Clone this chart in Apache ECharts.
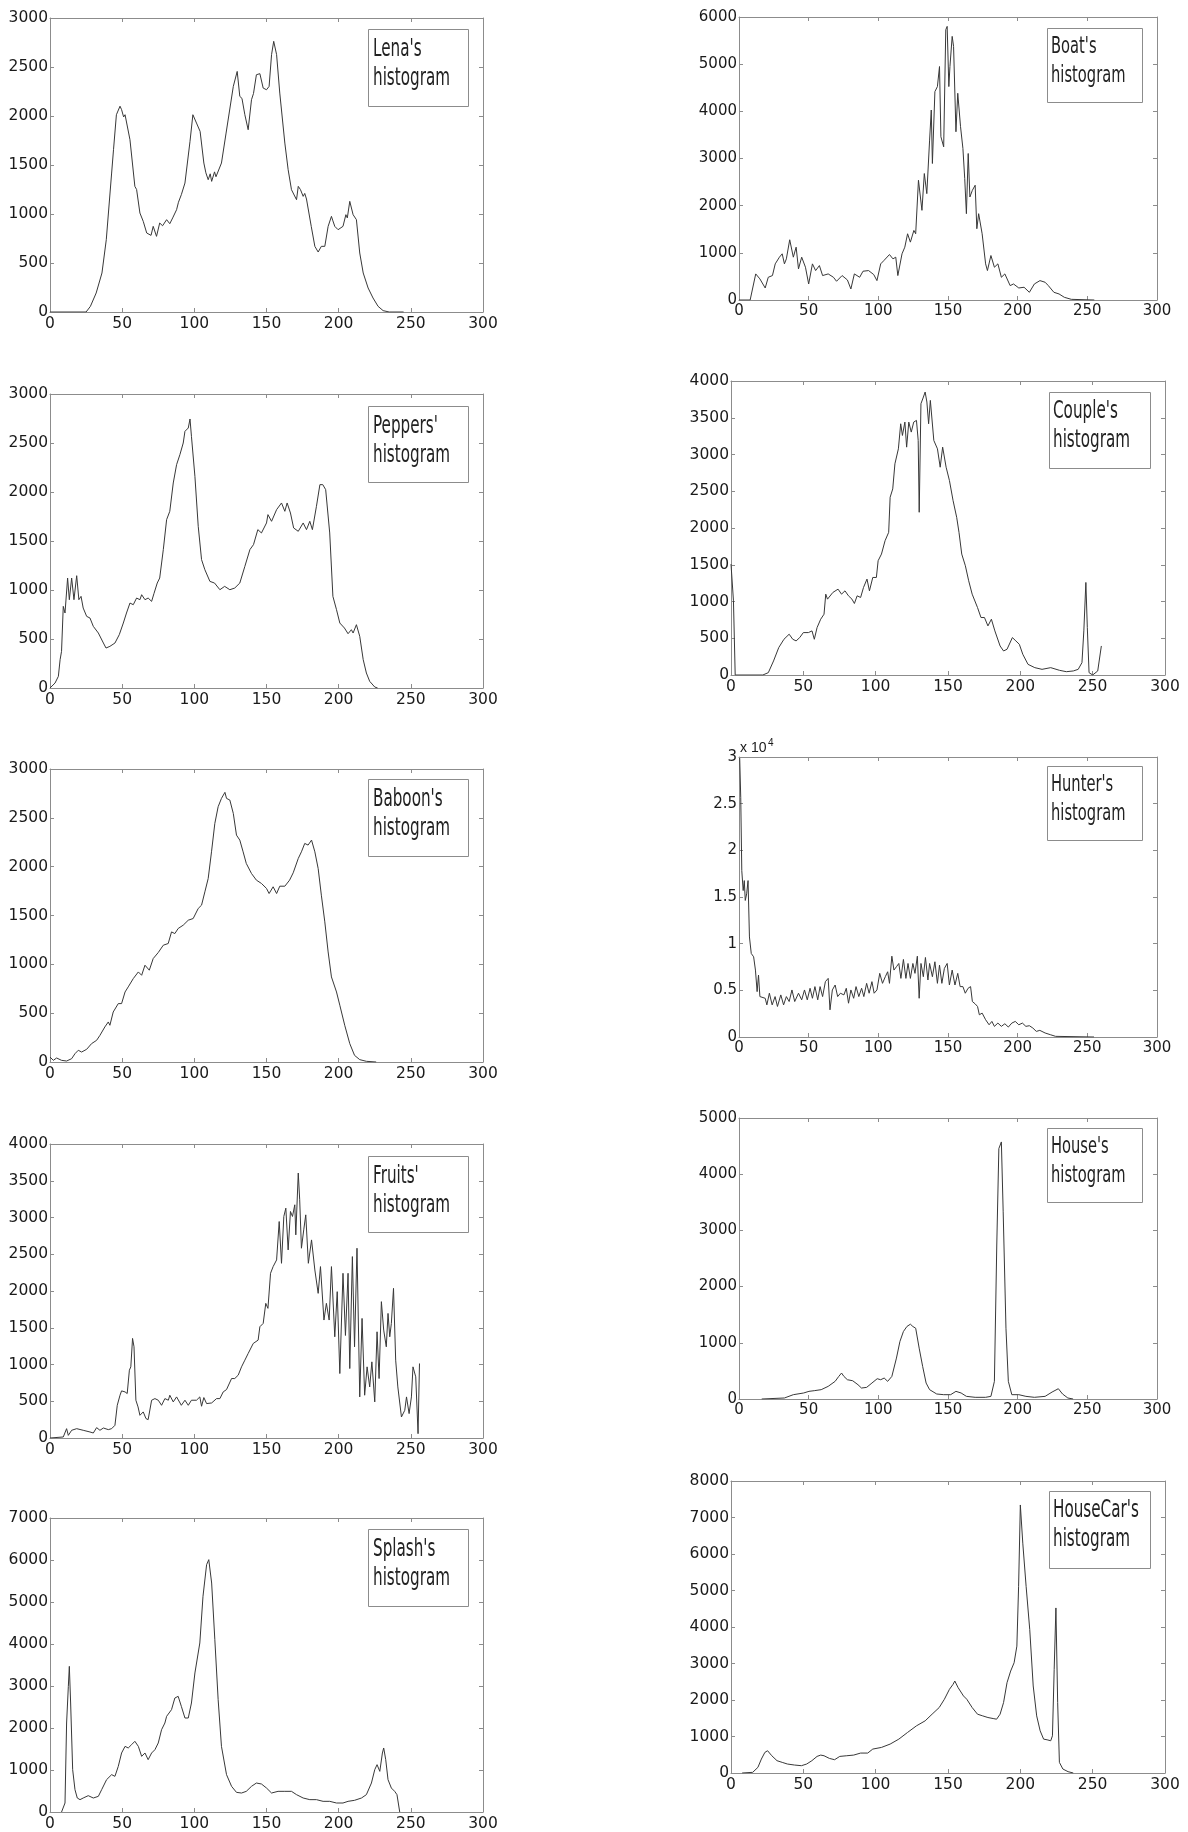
<!DOCTYPE html>
<html><head><meta charset="utf-8">
<script src="https://cdn.jsdelivr.net/npm/echarts@6/dist/echarts.min.js"></script>
<style>html,body{margin:0;padding:0;background:#fff}#c{width:1188px;height:1832px}</style>
</head><body><div id="c"></div>
<script>
// ---------------- data (gray level, pixel count) ----------------
const lena = [[0,0],[25,0],[28,58],[32,194],[36,398],[39,738],[42.7,1418],[44,1656],[46,2013],[48.5,2100],[49.6,2065],[51,1990],[52,2013],[53,2030],[55.4,1758],[58.8,1282],[60,1250],[62.3,1010],[64.6,925],[67,806],[70,782],[71.5,874],[73.8,772],[76,908],[78,880],[80.8,942],[83,901],[85,960],[87.7,1044],[89,1120],[91,1197],[93.5,1316],[97,1741],[99,2013],[101.5,1928],[104,1843],[106.6,1520],[108,1420],[109.6,1350],[111,1410],[112,1333],[114,1430],[115,1380],[118.8,1520],[122,1826],[127,2302],[129.7,2455],[131.5,2200],[133,2180],[135,2013],[137.3,1860],[139.6,2166],[141,2230],[143,2421],[145.4,2432],[147.7,2285],[150,2268],[151.8,2302],[153.5,2626],[155,2762],[157,2626],[159.2,2234],[162.7,1724],[165,1452],[167.3,1248],[170.8,1146],[172,1282],[173.5,1250],[175.4,1180],[176.5,1210],[177.7,1153],[181,874],[183.5,670],[185.8,612],[188,670],[190.4,670],[192.7,874],[195,976],[196,930],[197.3,874],[199.6,840],[203,874],[205,993],[206,960],[207.7,1129],[210,993],[212.3,942],[214.6,602],[217,398],[220.4,245],[223.8,143],[227.3,58],[230.8,14],[235,0],[245,0]];
const boat = [[0,0],[8,0],[12,553],[15,447],[18.8,255],[21,482],[24,518],[26,766],[29,908],[31,979],[32.6,766],[34,872],[36.4,1277],[39,908],[41,1120],[42.7,660],[45,908],[47.7,695],[50,340],[52.7,766],[55,624],[57.7,730],[60,518],[64,553],[67.8,482],[70,397],[74,518],[77.8,425],[80.3,234],[82.8,553],[86.6,482],[89,610],[93,624],[96.7,539],[99,411],[101.7,766],[104,837],[108,964],[110.5,872],[112.5,908],[114,518],[117,979],[119,1120],[121,1404],[123,1227],[125.5,1475],[126.8,1404],[128.8,2539],[131.3,1901],[133,2681],[134.8,2255],[136.8,3390],[138,4028],[138.8,2894],[140.6,4418],[142.4,4525],[143.9,4950],[144.9,3461],[146.9,3248],[148.4,5730],[149.4,5801],[150.6,4525],[151.4,4950],[153,5589],[154,5376],[155.7,3567],[157,4383],[159,3674],[160.7,3213],[162,2574],[163.2,1830],[164.5,3106],[165.7,2184],[167.5,2326],[169.5,2433],[170.7,1511],[172,1830],[174.5,1404],[177,766],[178.3,624],[180.8,943],[183.3,695],[185.8,766],[188.3,482],[190.8,553],[194.6,305],[197,340],[200.8,255],[204.6,270],[208.4,163],[212,340],[216,411],[219.7,376],[222,305],[226,163],[229.7,128],[233.5,57],[238.5,14],[255,0]];
const peppers = [[0,0],[3.5,51],[5.8,119],[7,289],[8,374],[9.2,833],[10.4,765],[12.2,1122],[13.4,901],[15,1122],[16.6,901],[18.5,1146],[20,901],[21.5,935],[23,816],[25.4,731],[27.7,714],[30,629],[33.5,561],[37,459],[38.8,408],[41.5,425],[45,459],[48,544],[50.8,663],[53,765],[55.4,867],[57.7,850],[60,918],[62.3,901],[63.5,952],[65.8,901],[68,918],[70.4,884],[72,962],[74.3,1071],[76,1122],[78.5,1412],[80.8,1718],[83,1803],[85.4,2092],[87.7,2279],[90,2381],[92.3,2500],[93.5,2619],[95.8,2653],[97,2745],[98,2568],[100.4,2160],[102.7,1650],[105,1310],[107.3,1207],[110.8,1088],[114,1071],[117.7,1003],[121,1037],[124.6,1003],[128,1020],[131.5,1071],[135,1241],[138.5,1412],[141,1463],[144,1616],[146.5,1582],[150,1684],[151,1769],[153.5,1701],[157,1820],[160.4,1888],[162.7,1803],[164.3,1888],[166.6,1786],[168.8,1633],[172,1599],[175.4,1684],[177.7,1616],[180,1701],[181.8,1616],[184.6,1854],[187,2075],[189,2075],[191,2024],[193.8,1582],[196,935],[198.5,799],[200.8,663],[204,612],[206.5,554],[208.8,595],[210,561],[212.3,646],[214.6,527],[217,289],[219.2,153],[221.5,68],[225,10],[227,0]];
const couple = [[0,1509],[1.7,1009],[2.9,0],[22,0],[25.8,32],[29.4,191],[33,373],[36.6,486],[40.2,555],[42.7,486],[45,464],[47.5,509],[50,577],[53.5,577],[56,600],[57.6,486],[59.5,645],[62,759],[64.3,827],[65.5,1100],[66.7,1032],[70.4,1123],[74,1168],[76.4,1100],[78.8,1145],[81.2,1077],[83.6,1032],[85.3,973],[87.2,1077],[89.6,1055],[91.6,1191],[94,1305],[95.7,1145],[98,1327],[100.5,1327],[101.7,1555],[104,1645],[106.5,1827],[109,1941],[110,2418],[111.8,2532],[113.3,2873],[115.7,3077],[117.3,3418],[118.5,3259],[120.2,3441],[121.4,3100],[122.9,3441],[124.6,3305],[126.3,3441],[128.2,3464],[129.4,3191],[130.1,2214],[131.3,3691],[133,3782],[134.2,3850],[135.4,3714],[136.6,3418],[137.8,3736],[140.2,3191],[142.7,3077],[144.6,2827],[146.3,3100],[148.7,2827],[151,2645],[153.5,2373],[156,2145],[157.6,1941],[159.5,1645],[162,1486],[164.3,1282],[166.7,1100],[170.4,918],[172.8,782],[175.2,782],[177.6,668],[180,759],[182.4,600],[186,395],[188.4,327],[190.8,350],[194.5,509],[196.9,464],[199.3,418],[201.7,282],[205.3,145],[210,100],[215,77],[221,100],[227,64],[231.8,45],[236.6,55],[240,77],[242.6,168],[243.9,600],[245.3,1259],[246.3,645],[247.5,32],[250,0],[253.5,55],[256,395]];
const baboon = [[0,51],[2.3,17],[4.6,41],[8,17],[11.5,10],[15,34],[17.3,85],[19.6,120],[21.9,102],[25.4,130],[28.8,188],[32.3,222],[34.6,273],[38,359],[40.4,410],[41.5,376],[43.8,512],[47.3,598],[49.6,598],[52,717],[54.2,769],[57.7,854],[61.2,922],[63.5,888],[65.8,991],[68.8,940],[71.5,1059],[75,1121],[78.5,1196],[81.9,1213],[84.2,1332],[86.5,1315],[88.8,1367],[92.3,1401],[95.8,1452],[99.2,1469],[102.7,1572],[105,1606],[107.3,1742],[109.6,1879],[111.9,2152],[114.2,2443],[116.5,2614],[118.8,2699],[121.2,2761],[122.3,2699],[124.6,2682],[127,2545],[129.2,2323],[131.5,2272],[133.8,2152],[136,2033],[139.6,1930],[143,1862],[146.5,1828],[150,1777],[151.8,1725],[154.6,1794],[157,1725],[159.2,1800],[162.7,1800],[166,1862],[168.5,1937],[172,2084],[174.2,2152],[176.5,2238],[178.8,2221],[181.2,2272],[183.5,2152],[185.8,1981],[188,1708],[190.4,1435],[192.7,1127],[195,871],[198.5,717],[200.8,581],[204.2,376],[207.7,188],[211,68],[214.6,24],[219.2,7],[226,0]];
const hunter = [[0.5,29900],[1.25,25630],[2,17820],[3,15690],[3.8,16760],[4.5,14630],[5.5,15340],[6.5,16760],[7.5,10720],[8.8,8950],[10.5,8590],[11.8,7170],[13,4860],[14,6640],[15,4330],[16.3,4330],[18.8,4150],[20,3440],[21.8,4690],[23.8,3440],[25.9,4330],[27.6,3270],[30,4510],[32,3440],[34,4330],[36,3800],[38,5040],[40,3800],[42.7,4690],[45,3980],[47,5040],[49,3980],[51,5220],[52.7,4150],[54.5,5400],[56.5,3980],[58.2,5400],[60,4330],[62,5930],[64,6280],[65.3,2910],[67,5040],[69,5570],[70.8,4330],[72.8,4690],[75.3,4510],[77,5220],[78.6,3620],[80.3,5040],[82.3,4150],[84,5400],[86,4330],[88,5220],[89.6,4330],[91.6,5750],[93.4,4690],[95.4,5930],[97,4690],[99,5040],[101,6820],[103,5750],[105,6460],[106.7,6990],[108,5750],[109.7,8660],[111.2,7170],[113,7530],[114.7,7880],[116.2,6280],[118,8310],[119.8,6280],[121.3,7880],[123,6280],[124.8,7880],[126.3,6820],[128,8660],[129.3,4150],[130.6,7880],[132.3,6460],[133.8,8520],[135.6,6110],[136.8,7880],[138.8,6460],[140.6,8060],[142.4,5750],[143.9,7700],[145.6,5750],[147.4,7350],[149.4,7880],[151,5570],[153,7170],[155,5570],[157,6820],[158.7,5400],[160.7,5400],[162.4,4690],[164.4,5220],[166.2,5400],[167.5,3800],[169.5,3550],[171.2,3270],[172.5,2380],[174.5,2560],[177,1850],[179.5,1310],[181.5,1670],[183.3,1140],[185.8,1490],[188.3,1140],[190.8,1420],[193.3,1065],[195.8,1490],[198.3,1670],[200.8,1310],[203.4,1490],[205.9,1140],[208.4,1210],[210.9,960],[213.4,600],[215.9,710],[219.7,430],[223.4,250],[227.2,70],[254.8,0]];
const fruits = [[0,0],[9.2,14],[11.5,127],[12.7,36],[15,105],[18.5,127],[23,105],[27.7,82],[30,68],[32.3,141],[34.6,105],[37,136],[40.4,114],[42.7,127],[45,173],[46.6,445],[48.5,582],[49.6,641],[52,627],[53.5,605],[55,923],[56,968],[57.2,1355],[58.2,1241],[59.5,514],[61,423],[62.3,309],[64.6,355],[66.5,264],[68,250],[70.4,514],[72.7,536],[75,514],[77.3,445],[79.6,536],[82,514],[83,582],[85.4,491],[87.7,559],[91,445],[93.5,514],[95.8,445],[98,514],[101.5,514],[103.8,559],[105,432],[106.6,550],[108.5,468],[112,477],[115.4,536],[117.7,536],[120,627],[122.3,659],[125.8,809],[128,809],[130.4,855],[132.7,968],[135,1059],[137.3,1150],[140.8,1286],[144.2,1332],[145.4,1514],[147.7,1559],[149.5,1832],[151,1764],[152.8,2241],[154.6,2332],[157,2423],[158.8,2945],[160.4,2377],[162,3014],[163.4,3127],[165,2559],[166.6,3082],[168,3014],[169.6,3173],[170.3,2764],[172,3605],[173,3241],[174.2,2582],[175.8,2832],[177.2,3036],[179,2377],[181.2,2695],[183.5,2286],[185.8,1968],[187.4,2332],[189.8,1605],[191.5,1832],[193.4,1605],[195,2332],[197.3,1377],[199,1991],[200.8,877],[203,2241],[204.7,1395],[206.5,2241],[207.7,945],[209.5,2468],[211,1241],[212.7,2582],[214.6,559],[216.2,1627],[218,582],[219.7,968],[221.5,695],[223,1036],[225,491],[226.6,1445],[228,809],[229.6,1855],[231.2,1468],[233,1241],[234.2,1695],[235.4,1377],[236.5,1559],[238,2036],[239.5,1059],[241,695],[243.5,286],[245.8,377],[247,559],[248.8,332],[250.4,559],[251.5,968],[253.4,832],[255,59],[256,1014]];
const house = [[16.3,0],[32.6,18],[39,77],[46.4,107],[50.2,136],[54,148],[59,166],[64,225],[69,314],[71.6,402],[73.6,462],[75.3,402],[77.8,343],[81.6,325],[85.4,254],[87.9,195],[91.6,207],[95.4,284],[99.2,361],[101.7,343],[104.2,373],[106.7,314],[109.7,402],[113,728],[115.5,1024],[118,1201],[120.5,1290],[123,1331],[124.8,1290],[126.8,1260],[129.3,905],[131.8,580],[134.3,284],[136.8,166],[141.9,89],[146.9,77],[151.9,77],[155.7,136],[159.4,107],[163.2,47],[169.5,30],[177,30],[180.8,47],[183.3,314],[185,2740],[186.5,4456],[188.3,4574],[189.6,3331],[191.6,1260],[193.3,314],[195.8,77],[200.8,77],[205.9,47],[212,30],[219.7,47],[224.7,124],[229.2,183],[232.2,89],[236,18],[239.8,0]];
const splash = [[8,0],[10.4,214],[11.5,2119],[12.7,2992],[13.4,3468],[14.3,2595],[15.7,1008],[17.3,532],[18.9,333],[20.8,294],[23,333],[26.5,389],[30,333],[33.5,373],[35.8,532],[39.2,770],[42.7,889],[45,849],[47.3,1087],[49.6,1405],[52,1563],[54.2,1524],[56.5,1603],[58.8,1683],[61.2,1563],[63.5,1325],[65.8,1405],[68,1246],[70.4,1405],[72.7,1484],[75,1643],[77.3,1960],[79.6,2119],[80.8,2278],[84.2,2437],[86.5,2714],[88.8,2754],[91,2516],[93.5,2238],[95.8,2238],[98,2595],[100.4,3310],[103.8,4024],[106,5135],[108.5,5889],[110,6008],[112,5452],[114.2,4103],[116.5,2675],[118.8,1563],[122.3,889],[125.8,611],[129.2,468],[132.7,452],[136,492],[139.6,611],[143,690],[146.5,667],[150,571],[153.5,452],[158,492],[162.7,492],[167.3,492],[170.8,413],[175.4,333],[180,294],[184.6,294],[189.2,254],[193.8,254],[198.5,214],[203,214],[206.5,254],[211,278],[215.8,333],[219.2,413],[222.7,690],[225,1008],[226.6,1127],[228.5,968],[230.3,1405],[231.2,1524],[232.6,1246],[234.2,770],[236.5,571],[238.8,492],[240.4,413],[242.3,0]];
const houseCar = [[7.7,0],[15,18],[18.6,155],[21,382],[23.4,564],[25.3,610],[28.2,473],[31.8,337],[35.4,291],[39,246],[43.9,218],[48.7,200],[52.3,246],[55.9,337],[59.5,455],[62,491],[64.3,473],[68,400],[71.6,364],[75.2,455],[80,473],[84.8,491],[89.6,546],[94.5,546],[98,655],[104,701],[110,792],[116,928],[122,1110],[128.2,1292],[134.2,1429],[139,1611],[143.9,1793],[147.5,2020],[151,2293],[153.5,2430],[154.7,2520],[157,2338],[160.7,2111],[163,2020],[166.7,1793],[170.4,1611],[174,1565],[177.6,1520],[181.2,1492],[183.6,1474],[186,1611],[188.4,1929],[190.8,2475],[193.3,2793],[195.7,3021],[197.6,3476],[198.8,5114],[200,7343],[201.7,6297],[204,5114],[206.5,3931],[208.9,2384],[211.3,1565],[213.7,1156],[216.1,928],[218.5,910],[221,883],[222.2,1019],[223.4,2839],[224.6,4522],[225.8,1929],[227,291],[229.4,109],[233,36],[236.6,0]];

const titles = ["Lena's","Boat's","Peppers'","Couple's","Baboon's","Hunter's","Fruits'","House's","Splash's","HouseCar's"];
const subtitle = "histogram";
const yMaxes = [3000,6000,3000,4000,3000,30000,4000,5000,7000,8000];
const ySteps = [500,1000,500,500,500,5000,500,1000,1000,1000];
const xMax = 300, xStep = 50;
const seriesData = [lena, boat, peppers, couple, baboon, hunter, fruits, house, splash, houseCar];

// ---------------- layout ----------------
const grids = [
  [50,18,433,294],[739,17,418,283],
  [50,394,433,294],[731,381,434,294],
  [50,769,433,293],[739,757,418,280],
  [50,1144,433,294],[739,1118,418,281],
  [50,1518,433,294],[731,1481,434,292]
];
const lboxes = [
  [368,29,100,77],[1047,28,95,74],
  [368,406,100,76],[1049,392,101,76],
  [368,779,100,77],[1047,766,95,74],
  [368,1156,100,76],[1047,1128,95,74],
  [368,1529,100,77],[1049,1491,101,77]
];
const AX = '#8c8c8c', TXT = '#1a1a1a';
const chart = echarts.init(document.getElementById('c'), null, {renderer:'canvas'});
const grid = [], xAxis = [], yAxis = [], series = [], graphic = [];
const mctx = document.createElement('canvas').getContext('2d');
const tickFont = '"DejaVu Sans", "Liberation Sans", sans-serif';

grids.forEach((g, i) => {
  const left = (i % 2 === 0);
  const wide = (i === 3 || i === 9);
  const small = !left && !wide;
  const fs = small ? 15 : 15.5;
  grid.push({left:g[0], top:g[1], width:g[2], height:g[3], containLabel:false});
  const base = {gridIndex:i, type:'value', min:0, splitLine:{show:false},
    axisLine:{show:true, onZero:false, lineStyle:{color:AX, width:1}},
    axisTick:{show:true, inside:true, length:4, lineStyle:{color:AX}}};
  xAxis.push(Object.assign({}, base, {position:'bottom', max:xMax, interval:xStep,
    axisLabel:{show:true, color:TXT, fontSize:fs, fontFamily:tickFont, margin:4}}));
  xAxis.push(Object.assign({}, base, {position:'top', max:xMax, interval:xStep, axisLabel:{show:false}}));
  const fmt = yMaxes[i] >= 10000 ? (v => String(v/10000)) : (v => String(v));
  yAxis.push(Object.assign({}, base, {position:'left', max:yMaxes[i], interval:ySteps[i],
    axisLabel:{show:true, color:TXT, fontSize:fs, fontFamily:tickFont, margin:2, formatter:fmt}}));
  yAxis.push(Object.assign({}, base, {position:'right', max:yMaxes[i], interval:ySteps[i], axisLabel:{show:false}}));
  series.push({type:'line', xAxisIndex:2*i, yAxisIndex:2*i, data:seriesData[i], showSymbol:false, symbol:'none',
    lineStyle:{color:'#383838', width:1}, animation:false, silent:true});

  // label box
  const b = lboxes[i];
  const lfs = small ? 23 : 24;
  const target = small ? 74.5 : 77;
  const font = lfs + 'px "DejaVu Sans"';
  mctx.font = font;
  const sx = target / mctx.measureText(subtitle).width;
  const b1 = left ? 28 : (wide ? 27 : 26), b2 = left ? 57 : (wide ? 56 : 54.5);
  const tx = b[0] + (left ? 5 : 4);
  graphic.push({type:'rect', z:100, shape:{x:b[0]+0.5, y:b[1]+0.5, width:b[2], height:b[3]},
    style:{fill:'#fff', stroke:'#8c8c8c', lineWidth:1}});
  graphic.push({type:'text', z:101, x:tx, y:b[1]+b1-0.3*lfs, scaleX:sx,
    style:{text:titles[i], font:font, fill:'#222', verticalAlign:'middle', align:'left'}});
  graphic.push({type:'text', z:101, x:tx, y:b[1]+b2-0.3*lfs, scaleX:sx,
    style:{text:subtitle, font:font, fill:'#222', verticalAlign:'middle', align:'left'}});
});
// exponent note for Hunter's axis
graphic.push({type:'text', z:101, x:740, y:748.5, style:{text:'x 10', font:'14px "Liberation Sans"', fill:TXT, verticalAlign:'middle'}});
graphic.push({type:'text', z:101, x:768, y:743.5, style:{text:'4', font:'10px "Liberation Sans"', fill:TXT, verticalAlign:'middle'}});

chart.setOption({animation:false, backgroundColor:'#fff', grid, xAxis, yAxis, series, graphic});
</script></body></html>
